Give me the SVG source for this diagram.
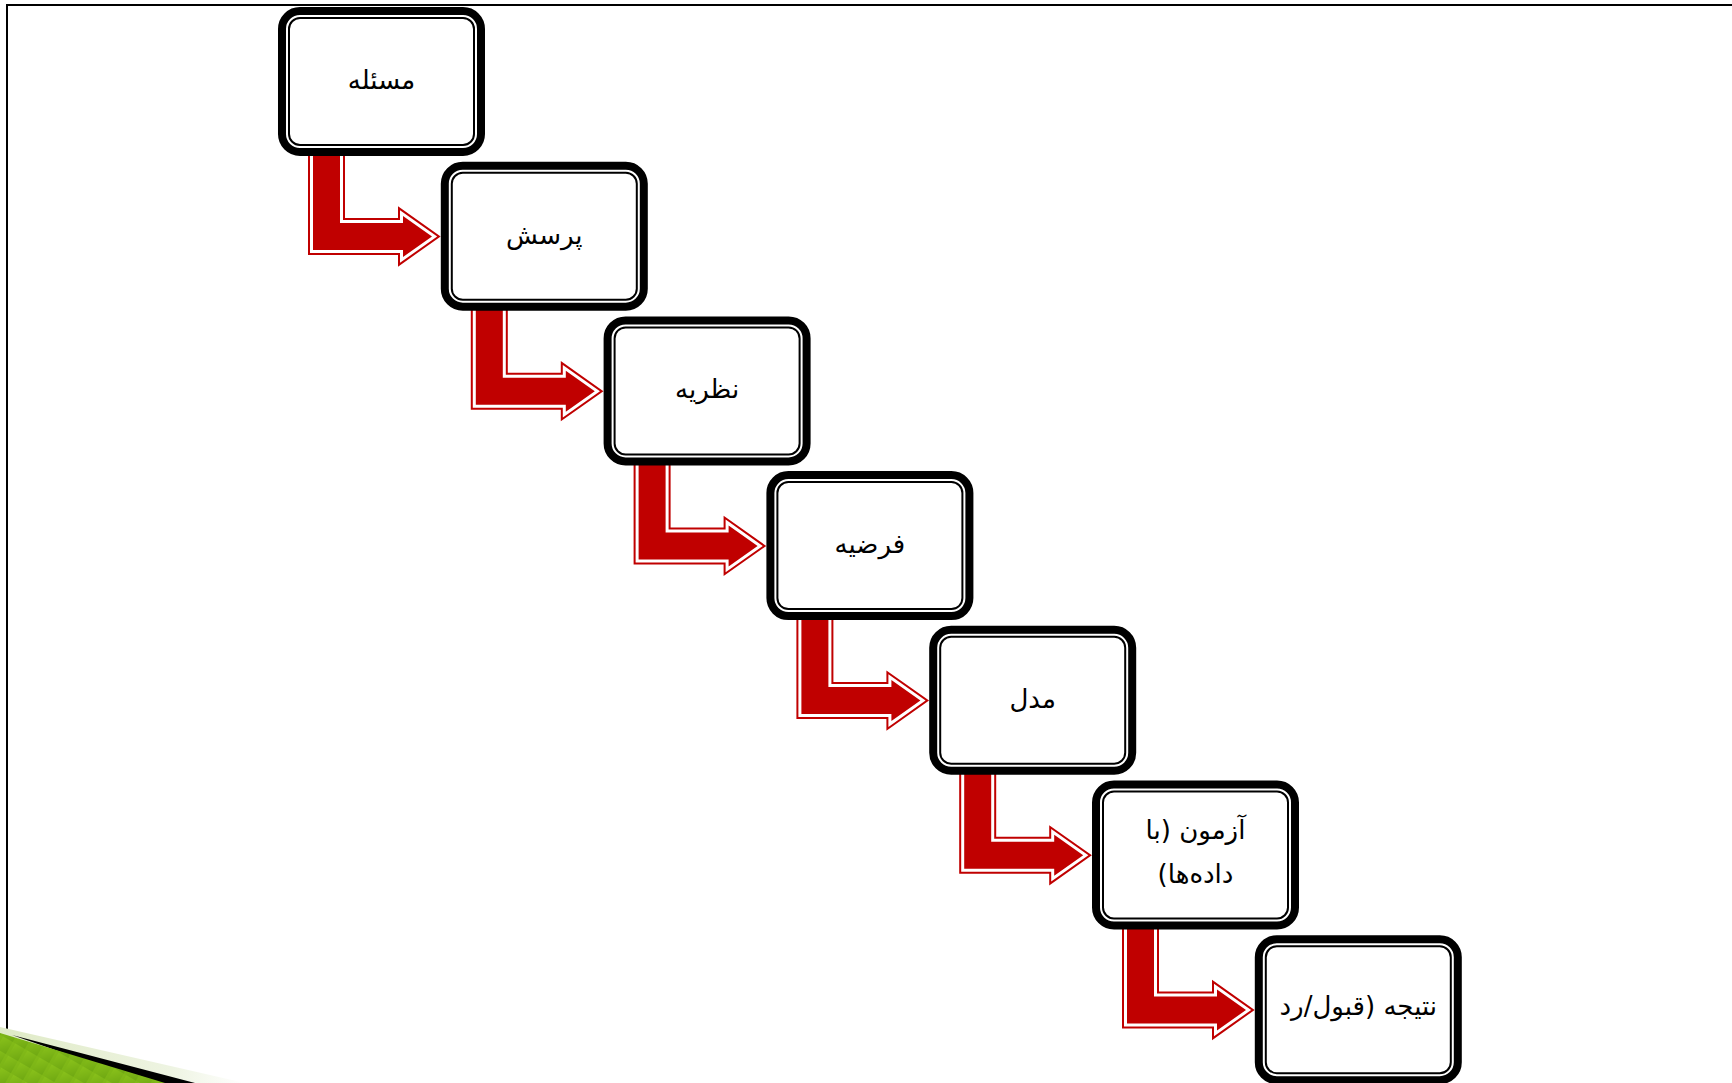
<svg xmlns="http://www.w3.org/2000/svg" width="1732" height="1083" viewBox="0 0 1732 1083">
  <defs>
    <style>
      .frame { stroke: #000; stroke-width: 2; fill: none; }
      .outer { fill: #fff; stroke: #000; stroke-width: 8; }
      .inner { fill: none; stroke: #000; stroke-width: 2; }
      .lbl { font-family: "DejaVu Sans", "Noto Sans", sans-serif; font-size: 26px; fill: #000; text-anchor: middle; direction: rtl; unicode-bidi: embed; }
      .a-out { fill: none; stroke: #C00000; stroke-width: 10; stroke-linejoin: miter; stroke-miterlimit: 10; }
      .a-gap { fill: none; stroke: #fff; stroke-width: 6; stroke-linejoin: miter; stroke-miterlimit: 10; }
      .a-fill { fill: #C00000; stroke: none; }
    </style>
    <path id="bent" d="M313,150 L340,150 L340,223 L403,223 L403,216 L432,236.5 L403,257 L403,250 L313,250 Z"/>
    <g id="arrow">
      <use href="#bent" class="a-out"/>
      <use href="#bent" class="a-gap"/>
      <use href="#bent" class="a-fill"/>
    </g>
    <linearGradient id="grn" x1="0" y1="0" x2="1" y2="1">
      <stop offset="0" stop-color="#8cc41c"/>
      <stop offset="1" stop-color="#6fa812"/>
    </linearGradient>
    <linearGradient id="pale" x1="0" y1="0" x2="1" y2="0">
      <stop offset="0" stop-color="#dfeac6"/>
      <stop offset="0.7" stop-color="#eef4e2"/>
      <stop offset="1" stop-color="#ffffff"/>
    </linearGradient>
    <pattern id="stripes" width="14" height="14" patternUnits="userSpaceOnUse" patternTransform="rotate(30)">
      <rect width="14" height="14" fill="url(#grn)"/>
      <rect width="3" height="14" fill="#7cb416" opacity="0.6"/>
    </pattern>
  </defs>

  <rect width="1732" height="1083" fill="#fff"/>

  <g id="frame">
    <path class="frame" d="M7,1083 L7,5 L1732,5"/>
  </g>

  <g id="corner-deco">
    <polygon points="0,1027 245,1083 0,1083" fill="url(#pale)"/>
    <polygon points="12,1035 195,1083 150,1083" fill="#000"/>
    <polygon points="0,1033 165,1083 0,1083" fill="url(#stripes)"/>
  </g>

  <g id="connectors">
    <use href="#arrow"/>
    <use href="#arrow" transform="translate(162.8,154.7)"/>
    <use href="#arrow" transform="translate(325.6,309.4)"/>
    <use href="#arrow" transform="translate(488.4,464.1)"/>
    <use href="#arrow" transform="translate(651.2,618.8)"/>
    <use href="#arrow" transform="translate(814,773.5)"/>
  </g>

  <g id="node-1" transform="translate(278,7)">
    <rect class="outer" x="4" y="4" width="199" height="141" rx="18"/>
    <rect class="inner" x="11" y="11" width="185" height="127" rx="11"/>
    <text class="lbl" x="103.5" y="82">مسئله</text>
  </g>
  <g id="node-2" transform="translate(440.8,161.7)">
    <rect class="outer" x="4" y="4" width="199" height="141" rx="18"/>
    <rect class="inner" x="11" y="11" width="185" height="127" rx="11"/>
    <text class="lbl" x="103.5" y="82">پرسش</text>
  </g>
  <g id="node-3" transform="translate(603.6,316.4)">
    <rect class="outer" x="4" y="4" width="199" height="141" rx="18"/>
    <rect class="inner" x="11" y="11" width="185" height="127" rx="11"/>
    <text class="lbl" x="103.5" y="82">نظریه</text>
  </g>
  <g id="node-4" transform="translate(766.4,471.1)">
    <rect class="outer" x="4" y="4" width="199" height="141" rx="18"/>
    <rect class="inner" x="11" y="11" width="185" height="127" rx="11"/>
    <text class="lbl" x="103.5" y="82">فرضیه</text>
  </g>
  <g id="node-5" transform="translate(929.2,625.8)">
    <rect class="outer" x="4" y="4" width="199" height="141" rx="18"/>
    <rect class="inner" x="11" y="11" width="185" height="127" rx="11"/>
    <text class="lbl" x="103.5" y="82">مدل</text>
  </g>
  <g id="node-6" transform="translate(1092,780.5)">
    <rect class="outer" x="4" y="4" width="199" height="141" rx="18"/>
    <rect class="inner" x="11" y="11" width="185" height="127" rx="11"/>
    <text class="lbl" x="103.5" y="58">آزمون (با</text>
    <text class="lbl" x="103.5" y="102">داده‌ها)</text>
  </g>
  <g id="node-7" transform="translate(1254.8,935.2)">
    <rect class="outer" x="4" y="4" width="199" height="141" rx="18"/>
    <rect class="inner" x="11" y="11" width="185" height="127" rx="11"/>
    <text class="lbl" x="103.5" y="80">نتیجه (قبول/رد</text>
  </g>
</svg>
